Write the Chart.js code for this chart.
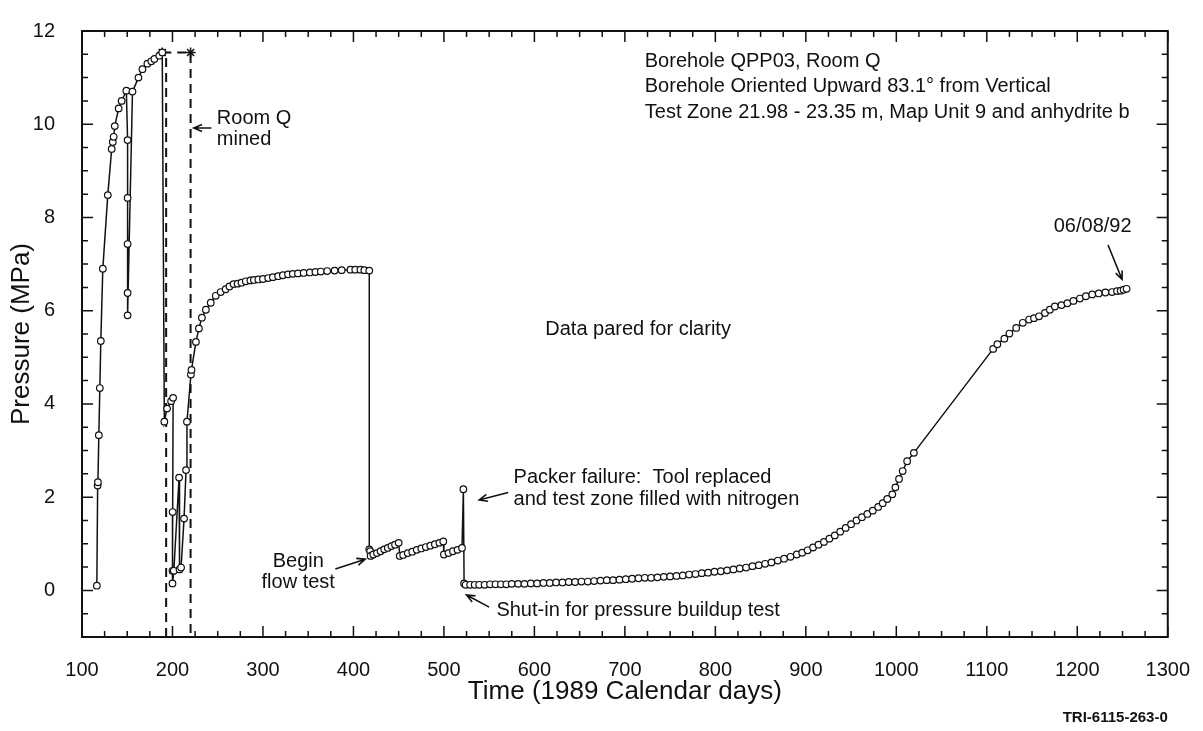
<!DOCTYPE html>
<html>
<head>
<meta charset="utf-8">
<title>Borehole QPP03 pressure history</title>
<script src="https://cdn.jsdelivr.net/npm/chart.js@4.4.1/dist/chart.umd.min.js"></script>
<style>
  html, body { margin: 0; padding: 0; background: #fff; }
</style>
</head>
<body>
<canvas id="pressureChart" width="1203" height="731"></canvas>
<script>
// Borehole QPP03 test-zone pressure (1989 calendar days, MPa)
const days = [
  116.4, 117.3, 117.6, 118.6, 119.7, 120.8, 123.0, 128.5, 132.8, 134.0, 135.0, 136.2, 140.5, 143.8, 149.0,
  150.4, 150.4, 150.4, 150.4, 150.4, 155.8, 162.4, 166.8, 172.3, 176.6, 180.0, 185.4, 188.7,
  191.0, 194.0, 198.5, 200.7, 200.2, 200.0, 200.0, 201.5, 207.3, 207.8, 209.5, 212.8, 215.0, 216.0, 220.4, 221.0, 225.9,
  229.2, 232.5, 236.9, 242.3, 247.8, 253.3, 258.8, 263.0, 267.5, 272.0, 276.3, 281.0, 286.1, 290.0, 294.9, 300.0,
  305.8, 311.0, 316.8, 322.0, 327.7, 333.0, 338.7, 345.0, 351.8, 358.0, 363.9, 371.0, 379.2, 387.0, 396.7, 402.0,
  407.7, 412.0, 417.5,
  417.5, 418.5, 419.0, 422, 426, 430, 434, 438, 442, 446, 450,
  451.2, 455, 460, 465, 470, 475, 480, 485, 490, 495, 499.3,
  500, 505, 510, 515, 520, 521.5, 522.3,
  524, 529, 534, 539, 545, 551, 557, 563, 569, 575, 582, 589, 596, 603, 610, 617, 624, 631, 638, 645, 652, 659,
  666, 673, 680, 687, 694, 701, 708, 715, 722, 729, 736, 743, 750, 757, 764, 771, 778, 785, 792, 799, 806, 813,
  820, 827, 834, 841, 848, 855, 862, 869, 876, 883, 890, 896, 902, 908, 914, 920, 926, 932, 938, 944, 950, 956,
  962, 968, 974, 980, 985, 990, 995.6, 999, 1003, 1007, 1012, 1019.4,
  1107, 1111.7, 1119.4, 1125, 1132.5, 1139.8, 1146.7, 1152.2, 1157.7, 1164.3, 1169.7, 1175.2, 1182.5, 1189.1,
  1195.7, 1202.9, 1209.5, 1216.5, 1223.7, 1231.1, 1238.4, 1243.9, 1248.0, 1251.2, 1254.5
];
const pressure = [
  0.10, 2.25, 2.32, 3.33, 4.34, 5.35, 6.90, 8.48, 9.47, 9.62, 9.73, 9.96, 10.34, 10.50, 10.72,
  9.66, 8.42, 7.43, 6.38, 5.90, 10.70, 11.00, 11.18, 11.30, 11.35, 11.40, 11.47, 11.54,
  3.62, 3.90, 4.06, 4.13, 1.68, 0.42, 0.15, 0.42, 2.42, 0.45, 0.49, 1.54, 2.58, 3.62, 4.63, 4.73, 5.33,
  5.62, 5.85, 6.02, 6.17, 6.32, 6.40, 6.46, 6.52, 6.57, 6.58, 6.60, 6.63, 6.65, 6.66, 6.67, 6.68,
  6.70, 6.72, 6.74, 6.76, 6.78, 6.79, 6.80, 6.81, 6.82, 6.83, 6.84, 6.85, 6.86, 6.87, 6.88, 6.88,
  6.88, 6.87, 6.86,
  0.88, 0.84, 0.74, 0.77, 0.80, 0.84, 0.88, 0.91, 0.95, 0.98, 1.02,
  0.74, 0.76, 0.80, 0.83, 0.87, 0.90, 0.93, 0.96, 0.99, 1.02, 1.05,
  0.77, 0.80, 0.84, 0.87, 0.91, 2.17, 0.15,
  0.12, 0.12, 0.12, 0.12, 0.12, 0.13, 0.13, 0.13, 0.13, 0.14, 0.14, 0.14, 0.15, 0.15, 0.16, 0.16, 0.17, 0.17, 0.18, 0.18, 0.19, 0.19,
  0.20, 0.21, 0.22, 0.22, 0.23, 0.24, 0.25, 0.26, 0.27, 0.27, 0.28, 0.29, 0.30, 0.31, 0.32, 0.34, 0.35, 0.37, 0.38, 0.40, 0.41, 0.43,
  0.45, 0.47, 0.49, 0.52, 0.54, 0.57, 0.60, 0.64, 0.68, 0.72, 0.77, 0.81, 0.86, 0.92, 0.98, 1.04, 1.11, 1.18, 1.26, 1.34, 1.42, 1.50,
  1.57, 1.64, 1.71, 1.79, 1.87, 1.96, 2.06, 2.21, 2.39, 2.56, 2.77, 2.95,
  5.18, 5.28, 5.40, 5.51, 5.63, 5.74, 5.81, 5.84, 5.88, 5.95, 6.02, 6.09, 6.12, 6.16,
  6.21, 6.26, 6.31, 6.35, 6.37, 6.39, 6.40, 6.42, 6.43, 6.45, 6.47
];

// "Room Q mined" dashed outline
const roomQLeftDays = [193, 193];
const roomQLeftPressure = [-1, 11.54];
const roomQRightDays = [188.7, 220, 220];
const roomQRightPressure = [11.54, 11.54, -1];

const xTickValues = [100, 200, 300, 400, 500, 600, 700, 800, 900, 1000, 1100, 1200, 1300];
const yTickValues = [0, 2, 4, 6, 8, 10, 12];

// annotation text, anchored in data units
const notes = [
  { text: 'Borehole QPP03, Room Q', x: 722, y: 11.35 },
  { text: 'Borehole Oriented Upward 83.1° from Vertical', x: 722, y: 10.8 },
  { text: 'Test Zone 21.98 - 23.35 m, Map Unit 9 and anhydrite b', x: 722, y: 10.25 },
  { text: 'Room Q', x: 249, y: 10.12 },
  { text: 'mined', x: 249, y: 9.68 },
  { text: 'Data pared for clarity', x: 612, y: 5.6 },
  { text: 'Packer failure:  Tool replaced', x: 577, y: 2.42 },
  { text: 'and test zone filled with nitrogen', x: 577, y: 1.96 },
  { text: 'Begin', x: 339, y: 0.61, align: 'center' },
  { text: 'flow test', x: 339, y: 0.17, align: 'center' },
  { text: 'Shut-in for pressure buildup test', x: 558, y: -0.44 },
  { text: '06/08/92', x: 1217, y: 7.81, align: 'center' }
];
const arrows = [
  { from: [243, 9.92], to: [223.5, 9.92] },
  { from: [380, 0.46], to: [413, 0.67] },
  { from: [571, 2.1], to: [539, 1.94] },
  { from: [550, -0.36], to: [525, -0.1] },
  { from: [1234, 7.41], to: [1249.5, 6.67] }
];

const INK = '#111';
const FONT = "'Liberation Sans', Arial, sans-serif";

const points = (xs, ys) => xs.map((x, i) => ({ x, y: ys[i] }));

// box round the plot, with inward ticks on all four sides
const frameTicks = {
  id: 'frameTicks',
  afterDatasetsDraw(chart) {
    const { ctx, chartArea: a, scales: { x, y } } = chart;
    ctx.save();
    ctx.strokeStyle = INK;
    ctx.lineWidth = 2;
    ctx.strokeRect(a.left, a.top, a.right - a.left, a.bottom - a.top);
    ctx.lineWidth = 1.5;
    ctx.beginPath();
    for (let v = 100; v <= 1300; v += 25) {
      const px = x.getPixelForValue(v);
      const len = v % 100 === 0 ? 11 : 6;
      ctx.moveTo(px, a.bottom); ctx.lineTo(px, a.bottom - len);
      ctx.moveTo(px, a.top); ctx.lineTo(px, a.top + len);
    }
    for (let v = -1; v <= 12; v += 0.5) {
      const py = y.getPixelForValue(v);
      const len = v % 2 === 0 ? 11 : 6;
      ctx.moveTo(a.left, py); ctx.lineTo(a.left + len, py);
      ctx.moveTo(a.right, py); ctx.lineTo(a.right - len, py);
    }
    ctx.stroke();
    ctx.restore();
  }
};

const annotations = {
  id: 'annotations',
  afterDraw(chart) {
    const { ctx, chartArea: a, scales: { x, y } } = chart;
    ctx.save();
    ctx.fillStyle = INK;
    ctx.strokeStyle = INK;
    ctx.font = '20px ' + FONT;
    ctx.textBaseline = 'middle';
    notes.forEach(n => {
      ctx.textAlign = n.align || 'left';
      ctx.fillText(n.text, x.getPixelForValue(n.x), y.getPixelForValue(n.y));
    });
    ctx.lineWidth = 1.6;
    arrows.forEach(ar => {
      const x0 = x.getPixelForValue(ar.from[0]), y0 = y.getPixelForValue(ar.from[1]);
      const x1 = x.getPixelForValue(ar.to[0]), y1 = y.getPixelForValue(ar.to[1]);
      const ang = Math.atan2(y1 - y0, x1 - x0);
      ctx.beginPath();
      ctx.moveTo(x0, y0); ctx.lineTo(x1, y1);
      ctx.moveTo(x1 - 9 * Math.cos(ang - 0.4), y1 - 9 * Math.sin(ang - 0.4));
      ctx.lineTo(x1, y1);
      ctx.lineTo(x1 - 9 * Math.cos(ang + 0.4), y1 - 9 * Math.sin(ang + 0.4));
      ctx.stroke();
    });
    ctx.font = 'bold 15px ' + FONT;
    ctx.textAlign = 'right';
    ctx.fillText('TRI-6115-263-0', a.right, 718);
    ctx.restore();
  }
};

new Chart(document.getElementById('pressureChart'), {
  type: 'scatter',
  data: {
    datasets: [
      {
        label: 'Pressure',
        data: points(days, pressure),
        showLine: true,
        borderColor: INK,
        borderWidth: 1.5,
        pointRadius: 3.3,
        pointBorderWidth: 1.2,
        pointBorderColor: INK,
        pointBackgroundColor: '#fff'
      },
      {
        label: 'Room Q mined (left)',
        data: points(roomQLeftDays, roomQLeftPressure),
        showLine: true,
        borderColor: INK,
        borderWidth: 2,
        borderDash: [9, 6],
        pointRadius: 0
      },
      {
        label: 'Room Q mined (right)',
        data: points(roomQRightDays, roomQRightPressure),
        showLine: true,
        borderColor: INK,
        borderWidth: 2,
        borderDash: [9, 6],
        pointStyle: 'star',
        pointRadius: c => (c.dataIndex < 2 ? 5 : 0),
        pointBorderColor: INK,
        pointBorderWidth: 1.5
      }
    ]
  },
  plugins: [frameTicks, annotations],
  options: {
    responsive: false,
    animation: false,
    devicePixelRatio: 1,
    layout: { padding: { top: 19, right: 23, bottom: 24, left: 0 } },
    plugins: { legend: { display: false }, tooltip: { enabled: false } },
    scales: {
      x: {
        type: 'linear',
        min: 100,
        max: 1300,
        afterBuildTicks: s => { s.ticks = xTickValues.map(v => ({ value: v })); },
        afterFit: s => { s.height = 70; },
        grid: { display: false },
        border: { display: false },
        ticks: {
          color: INK, font: { family: FONT, size: 20 }, padding: 13, maxRotation: 0, autoSkip: false,
          callback: v => String(v)
        },
        title: { display: true, text: 'Time (1989 Calendar days)', color: INK, font: { family: FONT, size: 26 }, padding: 0 }
      },
      y: {
        type: 'linear',
        min: -1,
        max: 12,
        afterBuildTicks: s => { s.ticks = yTickValues.map(v => ({ value: v })); },
        afterFit: s => { s.width = 82; },
        grid: { display: false },
        border: { display: false },
        ticks: { color: INK, font: { family: FONT, size: 20 }, padding: 19, callback: v => String(v) },
        title: { display: true, text: 'Pressure (MPa)', color: INK, font: { family: FONT, size: 26 }, padding: { top: 6 } }
      }
    }
  }
});
</script>
</body>
</html>
